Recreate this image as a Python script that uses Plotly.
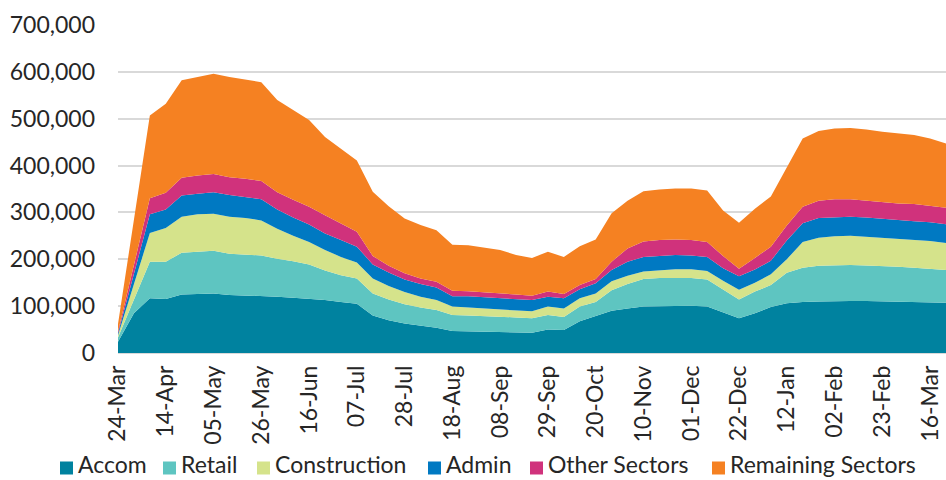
import pandas as pd
import plotly.graph_objects as go

# Weekly dates (24-Mar-2020 .. 23-Mar-2021)
weeks = pd.date_range("2020-03-24", periods=53, freq="7D")

# Values in thousands (stacked components)
accom = [24, 85, 117, 115, 125, 126, 127, 124, 123, 121, 120, 118, 116, 113, 109, 105, 80, 70, 63, 59,
         54, 47, 46, 45, 45, 44, 43, 50, 49, 68, 79, 90, 95, 99, 100, 101, 101, 99, 87, 74,
         85, 98, 106, 109, 110, 111, 111, 111, 110, 109, 108, 108, 107]
retail = [9, 29, 78, 80, 89, 90, 91, 88, 87, 87, 81, 78, 73, 63, 57, 54, 47, 44, 41, 38,
          38, 34, 34, 34, 32, 32, 31, 31, 28, 31, 30, 44, 52, 59, 60, 59, 59, 58, 49, 40,
          46, 47, 65, 73, 76, 76, 77, 76, 76, 75, 74, 72, 70]
construction = [5, 33, 61, 72, 77, 80, 79, 79, 78, 75, 64, 54, 48, 44, 39, 34, 32, 29, 26, 23,
                21, 18, 17, 17, 17, 16, 15, 18, 18, 18, 18, 19, 18, 16, 17, 19, 19, 18, 18, 21,
                19, 23, 29, 55, 60, 62, 62, 61, 59, 59, 59, 59, 58]
admin = [4, 22, 40, 39, 45, 44, 46, 46, 45, 45, 41, 39, 37, 35, 36, 34, 30, 29, 27, 27,
         27, 22, 24, 23, 23, 23, 24, 21, 22, 19, 22, 24, 30, 31, 30, 30, 29, 30, 27, 29,
         28, 29, 40, 40, 42, 41, 41, 41, 41, 41, 40, 40, 40]
other = [4, 19, 34, 36, 38, 39, 39, 38, 39, 39, 37, 38, 38, 39, 35, 32, 18, 14, 13, 12,
         12, 12, 11, 11, 11, 10, 9, 11, 9, 9, 9, 18, 28, 33, 34, 33, 33, 32, 26, 16,
         25, 30, 32, 35, 37, 38, 37, 36, 36, 35, 37, 35, 35]
remaining = [16, 96, 177, 190, 208, 210, 214, 214, 211, 211, 197, 191, 185, 167, 160, 152, 137, 127, 117, 114,
             110, 98, 98, 95, 92, 84, 81, 85, 79, 83, 84, 103, 102, 107, 108, 109, 110, 110, 97, 98,
             105, 107, 125, 146, 149, 151, 152, 152, 150, 149, 147, 144, 137]

series_names = ["Accom", "Retail", "Construction", "Admin", "Other Sectors", "Remaining Sectors"]
series_values = [accom, retail, construction, admin, other, remaining]
series_colors = ["#00829F", "#5EC5C1", "#D5E38B", "#0079C2", "#D0327C", "#F58122"]

tick_dates = weeks[::3]
tick_labels = [d.strftime("%d-%b") for d in tick_dates]

W, H = 946, 480
ML, MR, MT, MB = 118, 0, 25, 127
PW, PH = W - ML - MR, H - MT - MB

fig = go.Figure()
for name, vals, col in zip(series_names, series_values, series_colors):
    fig.add_trace(go.Scatter(
        x=weeks, y=[v * 1000 for v in vals], name=name,
        mode="lines", stackgroup="one", line=dict(width=0, color=col),
        fillcolor=col, showlegend=False,
    ))

# Custom single-row legend (square swatch + label)
legend_left = [60, 163, 257, 428, 530, 712]  # swatch left edges, px
legend_y = 468
sq = 13
def px_x(px):
    return (px - ML) / PW
def px_y(py):
    return (H - MB - py) / PH

for name, col, lx in zip(series_names, series_colors, legend_left):
    fig.add_shape(type="rect", xref="paper", yref="paper",
                  x0=px_x(lx), x1=px_x(lx + sq),
                  y0=px_y(legend_y + sq / 2), y1=px_y(legend_y - sq / 2),
                  fillcolor=col, line=dict(width=0))
    fig.add_annotation(text=name, xref="paper", yref="paper",
                       x=px_x(lx + sq + 4), y=px_y(479), xanchor="left", yanchor="bottom",
                       showarrow=False, borderpad=0, font=dict(size=23, color="#262626"))

fig.update_layout(
    width=W, height=H,
    margin=dict(l=ML, r=MR, t=MT, b=MB, autoexpand=False),
    plot_bgcolor="white", paper_bgcolor="white",
    font=dict(family="Lato", size=23, color="#262626"),
    showlegend=False,
)
fig.update_xaxes(
    range=[weeks[0], weeks[-1]], tickvals=tick_dates, ticktext=tick_labels,
    tickangle=-90, showgrid=False, zeroline=False, showline=False, automargin=False,
    tickfont=dict(size=23, color="#262626"), ticks="", ticklabelstandoff=7,
)
fig.update_yaxes(
    range=[0, 700000], tick0=0, dtick=100000, tickformat=",d", automargin=False,
    showgrid=True, gridcolor="#D9D9D9", gridwidth=1.5, zeroline=True,
    zerolinecolor="#D9D9D9", zerolinewidth=1.5, showline=False,
    tickfont=dict(size=23, color="#262626"), ticks="", ticklabelstandoff=22,
)

fig.write_html("out.html", config={"displayModeBar": False},
               post_script="document.body.style.margin='0px';document.body.style.overflow='hidden';")
